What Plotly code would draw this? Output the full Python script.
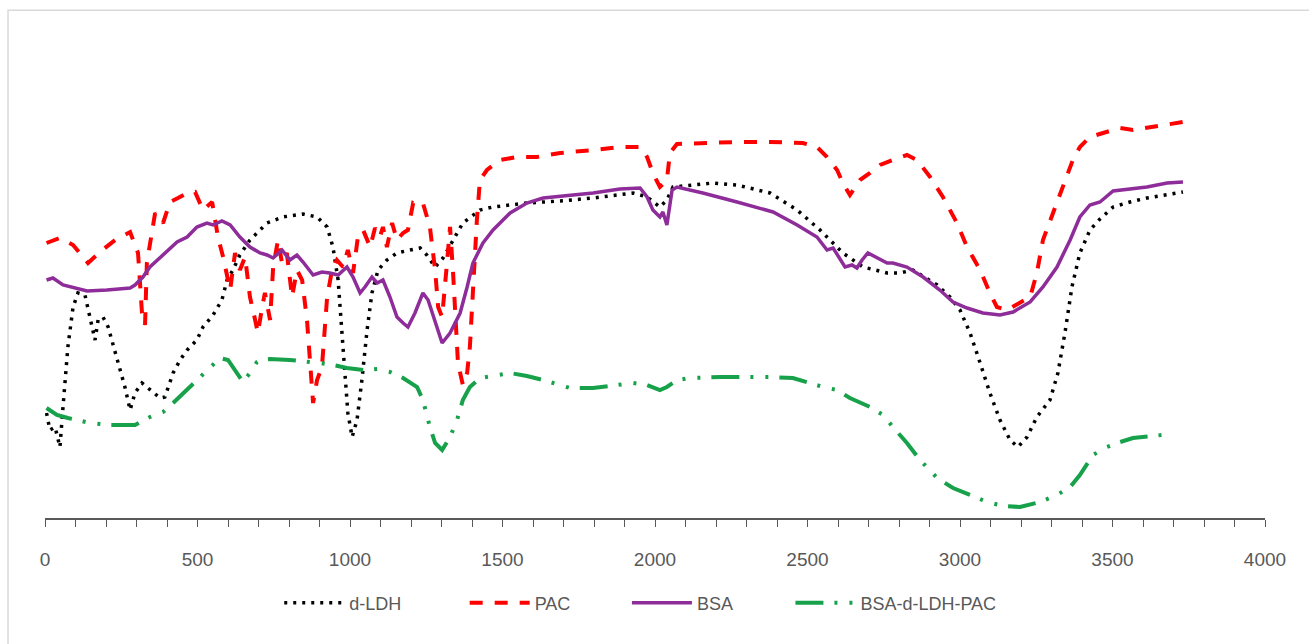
import plotly.graph_objects as go

# Wavenumber positions and transmittance-like values for each spectrum
ldh_x = [5, 16, 33, 49, 59, 75, 92, 108, 131, 148, 164, 174, 190, 207, 236, 262, 279, 295, 318, 344,
         377, 393, 420, 443, 466, 498, 518, 551, 580, 597, 616, 639, 672, 705, 728, 780, 846, 892, 925, 944,
         961, 977, 993, 1007, 1023, 1039, 1056, 1072, 1092, 1121, 1154, 1197, 1230, 1252, 1279, 1305, 1328,
         1370, 1426, 1469, 1580, 1689, 1797, 1928, 1974, 2016, 2039, 2059, 2190, 2269, 2377, 2466, 2541,
         2616, 2682, 2761, 2803, 2846, 2925, 2967, 3000, 3033, 3066, 3098, 3131, 3164, 3190, 3220, 3252,
         3295, 3321, 3344, 3367, 3393, 3426, 3459, 3502, 3557, 3613, 3666, 3731]
ldh_y = [26.25, 22, 22.75, 17.75, 27.75, 42.75, 52.75, 56.25, 55.75, 49.5, 44.5, 49.5, 50.25, 47.75, 39.5,
         32.75, 27, 31.25, 33.75, 32, 30, 30.25, 36.25, 39.5, 42, 44.5, 47.75, 50.75, 54.5, 59.5, 62, 65.75,
         69.5, 72, 73.75, 75.25, 76, 75.25, 72.75, 67.75, 59.5, 42.75, 26.25, 20.25, 24.5, 34.5, 47, 56.25,
         62, 64.5, 66.25, 67, 67.5, 65.75, 62.75, 65, 68.25, 73.75, 77, 77.75, 78.75, 79.25, 80, 81.25,
         80.25, 77.75, 79.5, 82.75, 83.75, 83.25, 81.25, 77, 72, 66.25, 62.75, 61.25, 61.25, 62, 58.25,
         55.25, 52, 46.25, 38.75, 31.25, 24.5, 19.5, 17.75, 20.25, 25.25, 29.5, 36.25, 46.25, 57.75, 66.25,
         72, 74.75, 77.75, 79, 80, 80.75, 81.5]

pac_x = [5, 49, 92, 141, 180, 230, 279, 305, 318, 328, 334, 361, 387, 410, 436, 466, 492, 518, 548, 557,
         567, 584, 607, 623, 639, 656, 672, 689, 698, 712, 721, 738, 748, 764, 777, 793, 810, 826, 843, 859,
         869, 879, 892, 908, 925, 941, 957, 977, 993, 1010, 1026, 1043, 1066, 1082, 1098, 1108, 1121, 1138,
         1154, 1174, 1190, 1207, 1223, 1239, 1262, 1279, 1289, 1302, 1318, 1328, 1338, 1354, 1370, 1384,
         1393, 1403, 1416, 1426, 1449, 1492, 1548, 1613, 1689, 1797, 1885, 1951, 1974, 1993, 2016, 2039,
         2049, 2072, 2157, 2269, 2377, 2485, 2531, 2564, 2597, 2616, 2639, 2672, 2705, 2738, 2780, 2826,
         2859, 2902, 2944, 2990, 3023, 3066, 3098, 3121, 3154, 3197, 3230, 3252, 3272, 3305, 3338, 3370,
         3393, 3426, 3469, 3525, 3567, 3613, 3666, 3731]
pac_y = [68.75, 70, 68.25, 63.75, 66.5, 69.5, 71.5, 66.25, 51.25, 48.25, 63.75, 76.25, 73.75, 79, 80,
         81.25, 81.5, 77, 79, 75.25, 70.25, 65.25, 57, 66.25, 62, 65.25, 55.25, 49.5, 46.25, 52.75, 56.25,
         49.5, 62.75, 69.5, 63.75, 66.25, 55.25, 62, 59.5, 49.5, 37.75, 28.75, 34.5, 37.75, 55.25, 62,
         64.5, 62.75, 67, 61.25, 70.25, 72, 67.75, 72.5, 70.25, 72.75, 67.75, 73.75, 69.5, 71.25, 72,
         78.75, 78.25, 78.75, 72.75, 62, 52.75, 50.25, 63.75, 72.75, 61.25, 38.75, 33.25, 36.25, 42.75,
         57.75, 74.5, 84.5, 87, 89.5, 90.25, 90.25, 91.25, 92, 92.75, 92.75, 90.25, 86.25, 82.75, 84.5,
         91.25, 93.5, 93.75, 94, 94, 93.75, 92.75, 90.25, 87, 83.75, 80.75, 84.5, 86.25, 88.25, 89.5,
         90.75, 89.5, 85.25, 80.25, 73.75, 67.75, 62, 56.25, 52.75, 52, 53.75, 55.25, 61.25, 69.5, 76.25,
         82.75, 89.5, 92.75, 95.25, 96.25, 97.5, 97, 97.5, 98.25, 99]

bsa_x = [5, 26, 59, 105, 138, 203, 279, 295, 321, 344, 387, 433, 466, 498, 531, 551, 580, 607, 639, 672,
         705, 728, 748, 777, 803, 826, 846, 879, 908, 934, 961, 990, 1010, 1033, 1049, 1072, 1089, 1108,
         1131, 1154, 1174, 1190, 1213, 1239, 1256, 1279, 1302, 1328, 1361, 1384, 1403, 1436, 1469, 1525,
         1580, 1633, 1721, 1797, 1885, 1951, 1974, 1993, 2016, 2026, 2039, 2056, 2072, 2157, 2269, 2387,
         2466, 2531, 2564, 2584, 2623, 2646, 2662, 2679, 2698, 2728, 2761, 2780, 2826, 2879, 2934, 2977,
         3023, 3075, 3131, 3174, 3230, 3272, 3318, 3361, 3393, 3426, 3459, 3502, 3613, 3679, 3731]
bsa_y = [59.5, 60, 58.25, 57.5, 56.75, 57, 57.5, 58.25, 60.25, 62.75, 65.75, 69, 70.25, 72.75, 73.75,
         73.25, 74.25, 73.25, 70.25, 67.75, 66.25, 65.75, 65, 67, 64.5, 65.75, 64, 60.75, 61.5, 61.25,
         60.75, 62.75, 60.25, 56.25, 57.75, 60.25, 58.75, 59.5, 55.25, 50.25, 48.75, 47.75, 51.25, 56.25,
         54.5, 48.75, 43.75, 46.25, 51.25, 57.75, 63.75, 68.75, 72, 76.25, 78.75, 80, 80.75, 81.25, 82.25,
         82.5, 80.25, 77, 75.25, 76.5, 73.25, 82, 82.75, 81.25, 79, 76.5, 73.25, 70.25, 67, 67.5, 62.75,
         63.25, 62.5, 64.5, 66.25, 65, 63.75, 63.75, 62.75, 60.25, 57, 54, 52.5, 51.25, 50.75, 51.5, 54,
         57.75, 62.75, 69.5, 75.25, 78.25, 79, 81.75, 82.75, 83.75, 84]

mix_x = [5, 39, 75, 148, 213, 295, 344, 387, 420, 475, 541, 574, 600, 630, 649, 672, 695, 705, 738, 803,
         846, 902, 944, 990, 1043, 1089, 1131, 1174, 1220, 1239, 1262, 1279, 1302, 1328, 1351, 1370, 1393,
         1426, 1525, 1580, 1633, 1721, 1797, 1875, 1928, 1974, 2016, 2039, 2072, 2115, 2213, 2377, 2452,
         2508, 2551, 2597, 2639, 2705, 2748, 2780, 2826, 2869, 2925, 2977, 3033, 3089, 3141, 3197, 3262,
         3318, 3361, 3393, 3436, 3482, 3525, 3567, 3633, 3689]
mix_y = [27.5, 25.75, 25, 23.75, 23.25, 23.25, 25.25, 26.5, 28.75, 32.75, 37.5, 40, 39.5, 36.25, 34,
         36.25, 39, 39.5, 39.75, 39.5, 39.25, 38.75, 38.25, 37.5, 37, 37.25, 36.5, 35, 32.75, 29.5, 22.75,
         18.75, 17, 20.25, 24.5, 29.5, 32.75, 35, 36.25, 35.5, 34.5, 32.5, 32.5, 33.25, 33.75, 33.25, 32,
         32.75, 34.5, 35, 35.25, 35.25, 35, 33.75, 32.75, 32, 30, 27.75, 25.75, 22.75, 18.75, 14.5, 10,
         7.5, 5.75, 4, 3, 2.75, 4, 5.75, 7.75, 10.75, 15.75, 17.75, 19, 20, 20.5, 21]

x_ticks = [0, 500, 1000, 1500, 2000, 2500, 3000, 3500, 4000]

# Each series gets its own legend box so the entries can be spaced out
series = [
    ("d-LDH", ldh_x, ldh_y, dict(color="#000000", width=3.5, dash="3px,6px"), "legend", 0.192),
    ("PAC", pac_x, pac_y, dict(color="#FF0000", width=4, dash="13px,12px"), "legend2", 0.344),
    ("BSA", bsa_x, bsa_y, dict(color="#8E2D9A", width=3.5), "legend3", 0.477),
    ("BSA-d-LDH-PAC", mix_x, mix_y,
     dict(color="#17A14A", width=4, dash="28px,11px,3px,12px,3px,11px"), "legend4", 0.611),
]

axis_grey = "#595959"
fig = go.Figure()
legend_layout = {}
for name, xs, ys, line, leg, lx in series:
    fig.add_trace(go.Scatter(x=xs, y=ys, mode="lines", name=name, line=line, legend=leg,
                             showlegend=True))
    legend_layout[leg] = dict(orientation="h", x=lx, xanchor="left", y=-0.185, yanchor="middle",
                              itemwidth=60, bgcolor="rgba(0,0,0,0)",
                              font=dict(size=18, color=axis_grey))

fig.update_layout(
    width=1309, height=644,
    margin=dict(l=45, r=44, t=58, b=126),
    paper_bgcolor="white", plot_bgcolor="white",
    showlegend=True,
    font=dict(family="Liberation Sans, Arial, sans-serif", size=18, color=axis_grey),
    xaxis=dict(range=[0, 4000], tickvals=x_ticks, ticks="outside", ticklen=7,
               tickcolor=axis_grey, tickwidth=1, showline=True, linecolor=axis_grey,
               linewidth=1.5, showgrid=False, zeroline=False, ticklabelstandoff=16,
               tickfont=dict(size=19),
               minor=dict(dtick=100, ticks="outside", ticklen=7, tickcolor=axis_grey,
                          tickwidth=1, showgrid=False)),
    yaxis=dict(range=[0, 115], visible=False, showgrid=False, zeroline=False),
    shapes=[dict(type="rect", xref="paper", yref="paper", x0=-0.0303, x1=1.05,
                 y0=-0.32, y1=1.104, line=dict(color="#D9D9D9", width=1.5))],
    **legend_layout,
)

fig.write_html("out.html")
